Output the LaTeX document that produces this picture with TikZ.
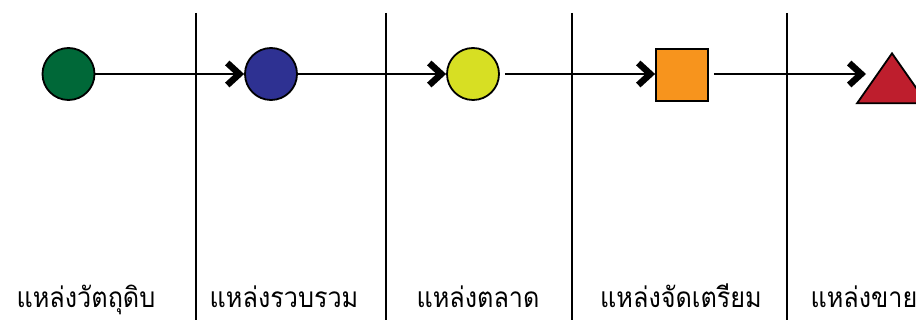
\documentclass[tikz,border=0pt]{standalone}
\usepackage{fontspec}
\newfontfamily\thaifont[Script=Thai,FakeStretch=0.9]{Loma}
\usetikzlibrary{arrows.meta,shapes.geometric}

\definecolor{srcgreen}{RGB}{0,104,56}
\definecolor{colblue}{RGB}{46,49,146}
\definecolor{mktyellow}{RGB}{215,223,35}
\definecolor{prporange}{RGB}{247,148,29}
\definecolor{salered}{RGB}{190,30,45}

\tikzset{
  stage/.style={draw=black, line width=1.8pt, inner sep=0pt},
  flow/.style={line width=2pt, -{Straight Barb[length=12pt,width=22pt,line width=6.5pt]}},
  divider/.style={line width=2pt},
  label/.style={font=\thaifont\fontsize{28}{32}\selectfont, anchor=base}
}

\begin{document}
\begin{tikzpicture}[x=1pt,y=-1pt]
        \useasboundingbox (0,0) rectangle (916,320);
        % Column dividers
        \draw[divider] (195.5,13) -- (195.5,320);
        \draw[divider] (386,13) -- (386,320);
        \draw[divider] (572,13) -- (572,320);
        \draw[divider] (787,13) -- (787,320);
        % Stages of the chain
        \node[stage, circle, fill=srcgreen, minimum size=52pt] (raw) at (68.5,74) {};
        \node[stage, circle, fill=colblue, minimum size=52pt] (gather) at (271,74) {};
        \node[stage, circle, fill=mktyellow, minimum size=52pt] (market) at (473,74) {};
        \node[stage, rectangle, fill=prporange, minimum size=52pt] (prep) at (682,75) {};
        \node[stage, isosceles triangle, shape border rotate=90, isosceles triangle stretches=true,
              minimum width=70pt, minimum height=50pt, fill=salered, anchor=apex] (sell) at (892,51) {};
        \coordinate (sellin) at (866,74);
        % Flow arrows
        \draw[flow] (raw) -- (gather);
        \draw[flow] (gather) -- (market);
        \draw[flow, shorten <=5pt] (market.east) -- (market.east -| prep.west);
        \draw[flow, shorten <=5pt] (prep.east |- sellin) -- (sellin);
        % Labels under each column
        \node[label] (lraw) at (86,308) {แหล่งวัตถุดิบ};
        \node[label] (lgather) at (284,308) {แหล่งรวบรวม};
        \node[label] (lmarket) at (478,308) {แหล่งตลาด};
        \node[label] (lprep) at (681,308) {แหล่งจัดเตรียม};
        \node[label, anchor=base west] (lsell) at (807,308) {แหล่งขาย};
    \end{tikzpicture}
\end{document}
